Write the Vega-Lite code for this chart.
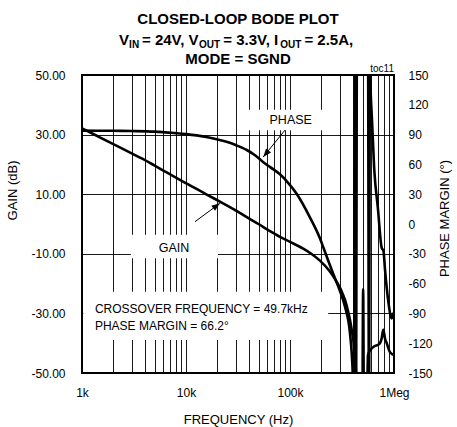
{
  "$schema": "https://vega.github.io/schema/vega-lite/v6.json",
  "width": 312,
  "height": 298,
  "autosize": "none",
  "padding": {"left": 82, "top": 75, "right": 63, "bottom": 54},
  "background": "white",
  "datasets": {
    "gain": [
      {"f": 1000, "g": 32.1}, {"f": 1500, "g": 29.0}, {"f": 2000, "g": 26.8}, {"f": 3000, "g": 23.7},
      {"f": 3750, "g": 22.0}, {"f": 5000, "g": 19.6}, {"f": 7000, "g": 16.7}, {"f": 8750, "g": 14.8},
      {"f": 12000, "g": 12.2}, {"f": 16000, "g": 9.8}, {"f": 21200, "g": 7.5}, {"f": 30000, "g": 4.6},
      {"f": 38400, "g": 2.3}, {"f": 49700, "g": 0}, {"f": 64300, "g": -2.4}, {"f": 80000, "g": -4.3},
      {"f": 100000, "g": -6.0}, {"f": 134000, "g": -8.3}, {"f": 160000, "g": -10.0}, {"f": 194000, "g": -12.3},
      {"f": 240000, "g": -15.8}, {"f": 281000, "g": -19.4}, {"f": 310000, "g": -22.2}, {"f": 338000, "g": -25.5},
      {"f": 360000, "g": -29}, {"f": 377600, "g": -32.2}, {"f": 392000, "g": -35.5}, {"f": 406000, "g": -38.9},
      {"f": 421700, "g": -45.6}, {"f": 431000, "g": -50}, {"f": 440800, "g": -70}, {"f": 495000, "g": -70},
      {"f": 505000, "g": -21.8}, {"f": 515000, "g": -70}, {"f": 545000, "g": -70}, {"f": 562000, "g": -44},
      {"f": 600000, "g": -42}, {"f": 650000, "g": -41}, {"f": 706000, "g": -40.5}, {"f": 733000, "g": -40},
      {"f": 760000, "g": -38.5}, {"f": 789000, "g": -35.5}, {"f": 820000, "g": -38.5}, {"f": 851000, "g": -40},
      {"f": 915000, "g": -43}, {"f": 1000000, "g": -44}
    ],
    "phase": [
      {"f": 1000, "p": 94}, {"f": 2000, "p": 93.8}, {"f": 3000, "p": 93.6}, {"f": 5000, "p": 93},
      {"f": 7830, "p": 91.5}, {"f": 10000, "p": 90.5}, {"f": 15200, "p": 87.9}, {"f": 19700, "p": 85.3},
      {"f": 25000, "p": 82.5}, {"f": 30000, "p": 79.5}, {"f": 38400, "p": 74.5}, {"f": 45000, "p": 70},
      {"f": 49700, "p": 66.5}, {"f": 55000, "p": 62.5}, {"f": 65000, "p": 57}, {"f": 80000, "p": 50},
      {"f": 95000, "p": 42}, {"f": 115000, "p": 31}, {"f": 155000, "p": 7}, {"f": 194000, "p": -14.4},
      {"f": 208000, "p": -22.9}, {"f": 259000, "p": -49.6}, {"f": 300000, "p": -66.4}, {"f": 338000, "p": -83.2},
      {"f": 377600, "p": -110}, {"f": 392000, "p": -130}, {"f": 401000, "p": -150}, {"f": 412500, "p": -200},
      {"f": 421700, "p": 200}, {"f": 431000, "p": -200}, {"f": 440800, "p": 200}, {"f": 562000, "p": 200},
      {"f": 574900, "p": -200}, {"f": 587700, "p": 200}, {"f": 591000, "p": 150}, {"f": 614000, "p": 105},
      {"f": 644500, "p": 56.4}, {"f": 700000, "p": 16}, {"f": 761600, "p": -24}, {"f": 792000, "p": -27},
      {"f": 819500, "p": -46}, {"f": 881700, "p": -78}, {"f": 950000, "p": -95}, {"f": 971000, "p": -92},
      {"f": 1000000, "p": -89}
    ],
    "boxes": [
      {"f1": 39000, "f2": 210000, "g1": 31.5, "g2": 38.3},
      {"f1": 2950, "f2": 20300, "g1": -11.5, "g2": -3.6},
      {"f1": 1030, "f2": 233000, "g1": -38.9, "g2": -22.7}
    ],
    "arrows": [
      {"f1": 89500, "g1": 31.5, "f2": 55300, "g2": 22.5},
      {"f1": 12200, "g1": 0.77, "f2": 21200, "g2": 6.95}
    ],
    "centerLabels": [
      {"f": 101600, "g": 34.9, "label": "PHASE"},
      {"f": 7670, "g": -8.2, "label": "GAIN"}
    ],
    "leftLabels": [
      {"f": 1330, "g": -30, "label": "CROSSOVER FREQUENCY = 49.7kHz"},
      {"f": 1330, "g": -35.6, "label": "PHASE MARGIN = 66.2°"}
    ],
    "titleCenter": [
      {"f": 31623, "g": 67.11, "label": "CLOSED-LOOP BODE PLOT"},
      {"f": 31623, "g": 53.75, "label": "MODE = SGND"}
    ],
    "titleMain": [
      {"f": 2273, "g": 60.07, "label": "V"},
      {"f": 3776, "g": 60.07, "label": "= 24V, V"},
      {"f": 22850, "g": 60.07, "label": "= 3.3V, I"},
      {"f": 137500, "g": 60.07, "label": "= 2.5A,"}
    ],
    "titleSub": [
      {"f": 2837, "g": 59.0, "label": "IN"},
      {"f": 13300, "g": 59.0, "label": "OUT"},
      {"f": 80500, "g": 59.0, "label": "OUT"}
    ],
    "tag": [{"f": 1000000, "g": 50, "label": "toc11"}]
  },
  "config": {
    "view": {"stroke": "black", "strokeWidth": 2},
    "axis": {
      "labelFont": "Liberation Sans", "labelFontSize": 12, "labelColor": "black",
      "titleFont": "Liberation Sans", "titleFontSize": 13, "titleFontWeight": "normal", "titleColor": "black",
      "ticks": false, "domain": false, "gridColor": "black", "gridOpacity": 0.9, "gridWidth": 1,
      "labelOverlap": false
    }
  },
  "resolve": {"scale": {"y": "independent"}},
  "layer": [
    {
      "layer": [
        {
          "data": {"name": "boxes"},
          "mark": {"type": "rect", "fill": "white", "strokeWidth": 0},
          "encoding": {
            "x": {"field": "f1", "type": "quantitative"},
            "x2": {"field": "f2"},
            "y": {"field": "g1", "type": "quantitative"},
            "y2": {"field": "g2"}
          }
        },
        {
          "data": {"name": "gain"},
          "mark": {"type": "line", "clip": true, "color": "black", "strokeWidth": 2.6, "interpolate": "monotone"},
          "encoding": {
            "x": {
              "field": "f", "type": "quantitative",
              "scale": {"type": "log", "domain": [1000, 1000000], "nice": false},
              "axis": {
                "title": "FREQUENCY (Hz)",
                "values": [1000, 2000, 3000, 4000, 5000, 6000, 7000, 8000, 9000, 10000, 20000, 30000, 40000, 50000, 60000, 70000, 80000, 90000, 100000, 200000, 300000, 400000, 500000, 600000, 700000, 800000, 900000, 1000000],
                "labelExpr": "datum.value == 1000 ? '1k' : datum.value == 10000 ? '10k' : datum.value == 100000 ? '100k' : datum.value == 1000000 ? '1Meg' : ''",
                "labelFlush": false, "labelOverlap": false, "labelPadding": 14, "titlePadding": 15, "grid": true
              }
            },
            "y": {
              "field": "g", "type": "quantitative",
              "scale": {"domain": [-50, 50], "nice": false, "zero": false},
              "axis": {
                "title": "GAIN (dB)", "values": [-50, -40, -30, -20, -10, 0, 10, 20, 30, 40, 50],
                "labelExpr": "replace(format(datum.value, '.2f'), '\u2212', '-')",
                "labelOverlap": false, "grid": true, "labelPadding": 17, "titlePadding": 11, "titleY": 115
              }
            }
          }
        },
        {
          "data": {"name": "arrows"},
          "mark": {"type": "rule", "color": "black", "strokeWidth": 1},
          "encoding": {
            "x": {"field": "f1", "type": "quantitative"},
            "x2": {"field": "f2"},
            "y": {"field": "g1", "type": "quantitative"},
            "y2": {"field": "g2"}
          }
        },
        {
          "data": {"values": [{"f": 55300, "g": 22.5}]},
          "mark": {"type": "point", "shape": "M0,0L-0.38,1L0.38,1Z", "filled": true, "color": "black", "opacity": 1, "size": 280, "angle": 219},
          "encoding": {
            "x": {"field": "f", "type": "quantitative"},
            "y": {"field": "g", "type": "quantitative"}
          }
        },
        {
          "data": {"values": [{"f": 21200, "g": 6.95}]},
          "mark": {"type": "point", "shape": "M0,0L-0.38,1L0.38,1Z", "filled": true, "color": "black", "opacity": 1, "size": 280, "angle": 53.6},
          "encoding": {
            "x": {"field": "f", "type": "quantitative"},
            "y": {"field": "g", "type": "quantitative"}
          }
        },
        {
          "data": {"name": "centerLabels"},
          "mark": {"type": "text", "font": "Liberation Sans", "fontSize": 12.5, "align": "center", "baseline": "middle", "color": "black"},
          "encoding": {
            "x": {"field": "f", "type": "quantitative"},
            "y": {"field": "g", "type": "quantitative"},
            "text": {"field": "label"}
          }
        },
        {
          "data": {"name": "leftLabels"},
          "mark": {"type": "text", "font": "Liberation Sans", "fontSize": 12, "align": "left", "baseline": "alphabetic", "color": "black"},
          "encoding": {
            "x": {"field": "f", "type": "quantitative"},
            "y": {"field": "g", "type": "quantitative"},
            "text": {"field": "label"}
          }
        },
        {
          "data": {"name": "titleCenter"},
          "mark": {"type": "text", "font": "Liberation Sans", "fontSize": 15, "fontWeight": "bold", "align": "center", "baseline": "alphabetic", "color": "black", "clip": false},
          "encoding": {
            "x": {"field": "f", "type": "quantitative"},
            "y": {"field": "g", "type": "quantitative"},
            "text": {"field": "label"}
          }
        },
        {
          "data": {"name": "titleMain"},
          "mark": {"type": "text", "font": "Liberation Sans", "fontSize": 15, "fontWeight": "bold", "align": "left", "baseline": "alphabetic", "color": "black", "clip": false},
          "encoding": {
            "x": {"field": "f", "type": "quantitative"},
            "y": {"field": "g", "type": "quantitative"},
            "text": {"field": "label"}
          }
        },
        {
          "data": {"name": "titleSub"},
          "mark": {"type": "text", "font": "Liberation Sans", "fontSize": 10, "fontWeight": "bold", "align": "left", "baseline": "alphabetic", "color": "black", "clip": false},
          "encoding": {
            "x": {"field": "f", "type": "quantitative"},
            "y": {"field": "g", "type": "quantitative"},
            "text": {"field": "label"}
          }
        },
        {
          "data": {"name": "tag"},
          "mark": {"type": "text", "font": "Liberation Sans", "fontSize": 10, "align": "right", "baseline": "alphabetic", "dy": -3, "color": "black", "clip": false},
          "encoding": {
            "x": {"field": "f", "type": "quantitative"},
            "y": {"field": "g", "type": "quantitative"},
            "text": {"field": "label"}
          }
        }
      ]
    },
    {
      "data": {"name": "phase"},
      "mark": {"type": "line", "clip": true, "color": "black", "strokeWidth": 2.6, "interpolate": "monotone"},
      "encoding": {
        "x": {"field": "f", "type": "quantitative"},
        "y": {
          "field": "p", "type": "quantitative",
          "scale": {"domain": [-150, 150], "nice": false, "zero": false},
          "axis": {
            "orient": "right", "title": "PHASE MARGIN (°)", "titleAngle": 270,
            "values": [-150, -120, -90, -60, -30, 0, 30, 60, 90, 120, 150],
            "labelExpr": "'' + datum.value", "labelOverlap": false,
            "grid": false, "labelPadding": 14, "titlePadding": 19, "titleY": 143
          }
        }
      }
    }
  ]
}
